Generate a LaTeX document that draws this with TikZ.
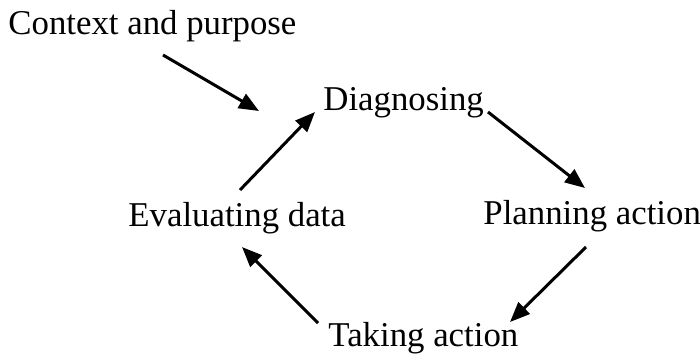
\documentclass[tikz,border=0pt]{standalone}
\usepackage{fontspec}
\setmainfont{Liberation Serif}
\usetikzlibrary{arrows.meta,positioning}

\begin{document}
\begin{tikzpicture}[x=0.5pt, y=-0.5pt,
    stage/.style={anchor=base west, inner sep=0pt, font=\fontsize{17.4}{20}\selectfont},
    cycarrow/.style={line width=1.5pt, -{Triangle[length=10pt, width=8pt]}}]
  \useasboundingbox (0,0) rectangle (700,355);

  \node[stage] (context) at (8,34) {Context and purpose};
  \node[stage] (diag) at (323,110) {Diagnosing};
  \node[stage] (plan) at (483,224) {Planning action};
  \node[stage] (eval) at (128,226) {Evaluating data};
  \node[stage] (take) at (328,346) {Taking action};

  % arrow ends
  \coordinate (ctx1) at (163,55);
  \coordinate (ctx2) at (259,111);
  \coordinate (ev1) at (240,190);
  \coordinate (ev2) at (315,112);
  \coordinate (dg1) at (488,112);
  \coordinate (dg2) at (585,188);
  \coordinate (pl1) at (586,247);
  \coordinate (pl2) at (510,322);
  \coordinate (tk1) at (318,323);
  \coordinate (tk2) at (242,247);

  \draw[cycarrow] (ctx1) -- (ctx2);
  \draw[cycarrow] (ev1) -- (ev2);
  \draw[cycarrow] (dg1) -- (dg2);
  \draw[cycarrow] (pl1) -- (pl2);
  \draw[cycarrow] (tk1) -- (tk2);
\end{tikzpicture}
\end{document}
